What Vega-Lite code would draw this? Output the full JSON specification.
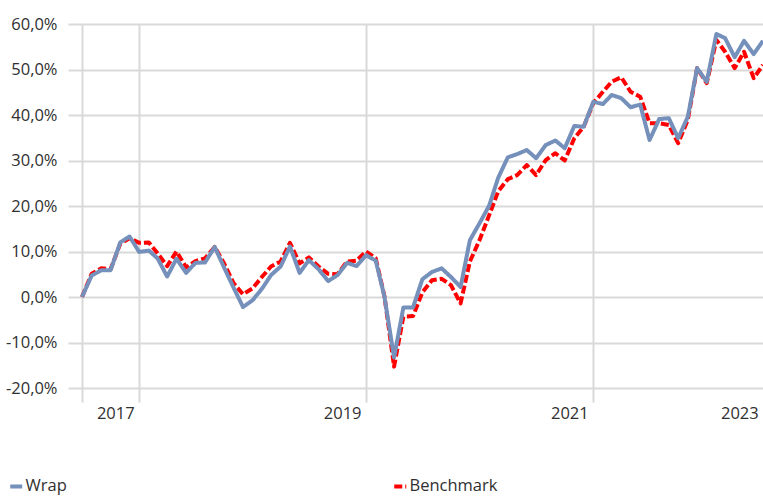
{
  "$schema": "https://vega.github.io/schema/vega-lite/v6.json",
  "width": 681,
  "height": 364,
  "autosize": {"type": "none"},
  "padding": {"left": 82, "top": 24, "right": 0, "bottom": 109},
  "background": "white",
  "config": {
    "view": {"stroke": null},
    "font": "Open Sans",
    "axis": {"labelFont": "Open Sans", "labelFontSize": 16.5, "labelColor": "#303030"},
    "legend": {"labelFont": "Open Sans", "labelFontSize": 16.5, "labelColor": "#303030"}
  },
  "data": {
    "values": [
      {"date": "2016-07-01", "Wrap": 0.0, "Benchmark": 0.0},
      {"date": "2016-08-01", "Wrap": 4.7, "Benchmark": 5.1},
      {"date": "2016-09-01", "Wrap": 5.9, "Benchmark": 6.3},
      {"date": "2016-10-01", "Wrap": 5.9, "Benchmark": 6.1},
      {"date": "2016-11-01", "Wrap": 12.0, "Benchmark": 11.7},
      {"date": "2016-12-01", "Wrap": 13.3, "Benchmark": 12.9},
      {"date": "2017-01-01", "Wrap": 9.9, "Benchmark": 11.9},
      {"date": "2017-02-01", "Wrap": 10.2, "Benchmark": 12.0},
      {"date": "2017-03-01", "Wrap": 8.5, "Benchmark": 9.6},
      {"date": "2017-04-01", "Wrap": 4.5, "Benchmark": 6.8},
      {"date": "2017-05-01", "Wrap": 8.4, "Benchmark": 10.0},
      {"date": "2017-06-01", "Wrap": 5.3, "Benchmark": 6.5},
      {"date": "2017-07-01", "Wrap": 7.5, "Benchmark": 7.9},
      {"date": "2017-08-01", "Wrap": 7.6, "Benchmark": 8.5},
      {"date": "2017-09-01", "Wrap": 11.0, "Benchmark": 11.0},
      {"date": "2017-10-01", "Wrap": 6.5, "Benchmark": 7.4},
      {"date": "2017-11-01", "Wrap": 2.0, "Benchmark": 3.0},
      {"date": "2017-12-01", "Wrap": -2.2, "Benchmark": 0.6},
      {"date": "2018-01-01", "Wrap": -0.7, "Benchmark": 1.9},
      {"date": "2018-02-01", "Wrap": 1.9, "Benchmark": 4.5},
      {"date": "2018-03-01", "Wrap": 4.8, "Benchmark": 6.7},
      {"date": "2018-04-01", "Wrap": 6.7, "Benchmark": 7.8},
      {"date": "2018-05-01", "Wrap": 11.1, "Benchmark": 11.9},
      {"date": "2018-06-01", "Wrap": 5.3, "Benchmark": 7.4},
      {"date": "2018-07-01", "Wrap": 8.1, "Benchmark": 8.7},
      {"date": "2018-08-01", "Wrap": 6.1, "Benchmark": 6.7},
      {"date": "2018-09-01", "Wrap": 3.5, "Benchmark": 5.1},
      {"date": "2018-10-01", "Wrap": 4.8, "Benchmark": 5.0},
      {"date": "2018-11-01", "Wrap": 7.5, "Benchmark": 7.8},
      {"date": "2018-12-01", "Wrap": 6.8, "Benchmark": 8.0},
      {"date": "2019-01-01", "Wrap": 9.2, "Benchmark": 10.0},
      {"date": "2019-02-01", "Wrap": 8.0, "Benchmark": 8.5},
      {"date": "2019-03-01", "Wrap": 0.1, "Benchmark": 0.2},
      {"date": "2019-04-01", "Wrap": -13.3, "Benchmark": -15.3},
      {"date": "2019-05-01", "Wrap": -2.3, "Benchmark": -4.3},
      {"date": "2019-06-01", "Wrap": -2.3, "Benchmark": -4.2},
      {"date": "2019-07-01", "Wrap": 3.9, "Benchmark": 1.0},
      {"date": "2019-08-01", "Wrap": 5.5, "Benchmark": 3.7},
      {"date": "2019-09-01", "Wrap": 6.3, "Benchmark": 4.0},
      {"date": "2019-10-01", "Wrap": 4.4, "Benchmark": 2.6},
      {"date": "2019-11-01", "Wrap": 2.2, "Benchmark": -1.4},
      {"date": "2019-12-01", "Wrap": 12.5, "Benchmark": 7.8},
      {"date": "2020-01-01", "Wrap": 16.2, "Benchmark": 12.5},
      {"date": "2020-02-01", "Wrap": 20.1, "Benchmark": 18.0},
      {"date": "2020-03-01", "Wrap": 26.2, "Benchmark": 23.2},
      {"date": "2020-04-01", "Wrap": 30.7, "Benchmark": 25.9},
      {"date": "2020-05-01", "Wrap": 31.4, "Benchmark": 26.8},
      {"date": "2020-06-01", "Wrap": 32.3, "Benchmark": 29.0},
      {"date": "2020-07-01", "Wrap": 30.5, "Benchmark": 26.8},
      {"date": "2020-08-01", "Wrap": 33.4, "Benchmark": 30.1},
      {"date": "2020-09-01", "Wrap": 34.4, "Benchmark": 31.6},
      {"date": "2020-10-01", "Wrap": 32.7, "Benchmark": 30.0},
      {"date": "2020-11-01", "Wrap": 37.6, "Benchmark": 34.9},
      {"date": "2020-12-01", "Wrap": 37.4, "Benchmark": 37.4},
      {"date": "2021-01-01", "Wrap": 42.9, "Benchmark": 42.6},
      {"date": "2021-02-01", "Wrap": 42.4, "Benchmark": 45.1},
      {"date": "2021-03-01", "Wrap": 44.4, "Benchmark": 47.3},
      {"date": "2021-04-01", "Wrap": 43.7, "Benchmark": 48.3},
      {"date": "2021-05-01", "Wrap": 41.7, "Benchmark": 45.1},
      {"date": "2021-06-01", "Wrap": 42.3, "Benchmark": 44.0},
      {"date": "2021-07-01", "Wrap": 34.5, "Benchmark": 38.2},
      {"date": "2021-08-01", "Wrap": 39.1, "Benchmark": 38.2},
      {"date": "2021-09-01", "Wrap": 39.3, "Benchmark": 37.8},
      {"date": "2021-10-01", "Wrap": 34.9, "Benchmark": 33.8},
      {"date": "2021-11-01", "Wrap": 39.6, "Benchmark": 38.9},
      {"date": "2021-12-01", "Wrap": 50.3, "Benchmark": 50.3},
      {"date": "2022-01-01", "Wrap": 47.3, "Benchmark": 47.0},
      {"date": "2022-02-01", "Wrap": 57.8, "Benchmark": 56.5},
      {"date": "2022-03-01", "Wrap": 56.9, "Benchmark": 53.9},
      {"date": "2022-04-01", "Wrap": 52.7, "Benchmark": 50.3},
      {"date": "2022-05-01", "Wrap": 56.3, "Benchmark": 53.9},
      {"date": "2022-06-01", "Wrap": 53.4, "Benchmark": 48.1},
      {"date": "2022-07-01", "Wrap": 56.3, "Benchmark": 51.0}
    ]
  },
  "transform": [{"fold": ["Wrap", "Benchmark"], "as": ["series", "value"]}],
  "encoding": {
    "x": {
      "field": "date",
      "type": "temporal",
      "scale": {"type": "utc", "domain": [{"year": 2016, "month": 7, "date": 1, "utc": true}, {"year": 2022, "month": 7, "date": 1, "utc": true}]},
      "axis": {
        "title": null,
        "values": [
          {"year": 2016, "month": 7, "date": 1, "utc": true},
          {"year": 2017, "month": 1, "date": 1, "utc": true},
          {"year": 2019, "month": 1, "date": 1, "utc": true},
          {"year": 2021, "month": 1, "date": 1, "utc": true},
          {"year": 2016, "month": 10, "date": 16, "utc": true},
          {"year": 2018, "month": 10, "date": 16, "utc": true},
          {"year": 2020, "month": 10, "date": 16, "utc": true},
          {"year": 2022, "month": 4, "date": 16, "utc": true}
        ],
        "labelExpr": "utcdate(datum.value) === 1 ? '' : '' + (utcyear(datum.value) + 1)",
        "grid": true,
        "gridColor": "#d9d9d9",
        "gridWidth": 2,
        "gridOpacity": {"condition": {"test": "utcdate(datum.value) === 1", "value": 1}, "value": 0},
        "domain": false,
        "ticks": true,
        "tickSize": 14,
        "tickColor": "#d9d9d9",
        "tickWidth": 2,
        "tickOpacity": {"condition": {"test": "utcdate(datum.value) === 1", "value": 1}, "value": 0},
        "labelPadding": 3,
        "labelAngle": 0,
        "labelAlign": "center",
        "labelFlush": false,
        "labelOverlap": false
      }
    },
    "y": {
      "field": "value",
      "type": "quantitative",
      "scale": {"domain": [-20, 60], "nice": false, "zero": false},
      "axis": {
        "title": null,
        "values": [-20, -10, 0, 10, 20, 30, 40, 50, 60],
        "labelExpr": "(datum.value < 0 ? '-' : '') + replace(format(abs(datum.value), '.1f'), '.', ',') + '%'",
        "grid": true,
        "gridColor": "#d9d9d9",
        "gridWidth": 2,
        "domain": false,
        "ticks": true,
        "tickSize": 14,
        "tickColor": "#d9d9d9",
        "tickWidth": 2,
        "labelPadding": 11
      }
    },
    "color": {
      "field": "series",
      "type": "nominal",
      "scale": {"domain": ["Wrap", "Benchmark"], "range": ["#7590bb", "#ff0000"]},
      "legend": {
        "title": null,
        "orient": "none",
        "legendX": -74,
        "legendY": 454,
        "direction": "horizontal",
        "symbolType": "stroke",
        "symbolSize": 144,
        "symbolStrokeWidth": 4,
        "columnPadding": 319,
        "labelOffset": 1,
        "padding": 0
      }
    },
    "strokeDash": {
      "field": "series",
      "type": "nominal",
      "scale": {"domain": ["Wrap", "Benchmark"], "range": [[1, 0], [8, 3]]},
      "legend": {
        "title": null,
        "orient": "none",
        "legendX": -74,
        "legendY": 454,
        "direction": "horizontal",
        "symbolType": "stroke",
        "symbolSize": 144,
        "symbolStrokeWidth": 4,
        "columnPadding": 319,
        "labelOffset": 1,
        "padding": 0
      }
    }
  },
  "layer": [
    {
      "transform": [{"filter": "datum.series === 'Benchmark'"}],
      "mark": {"type": "line", "strokeWidth": 4, "strokeDash": [10, 5], "strokeJoin": "round", "clip": false}
    },
    {
      "transform": [{"filter": "datum.series === 'Wrap'"}],
      "mark": {"type": "line", "strokeWidth": 4, "strokeJoin": "round", "clip": false}
    }
  ]
}
